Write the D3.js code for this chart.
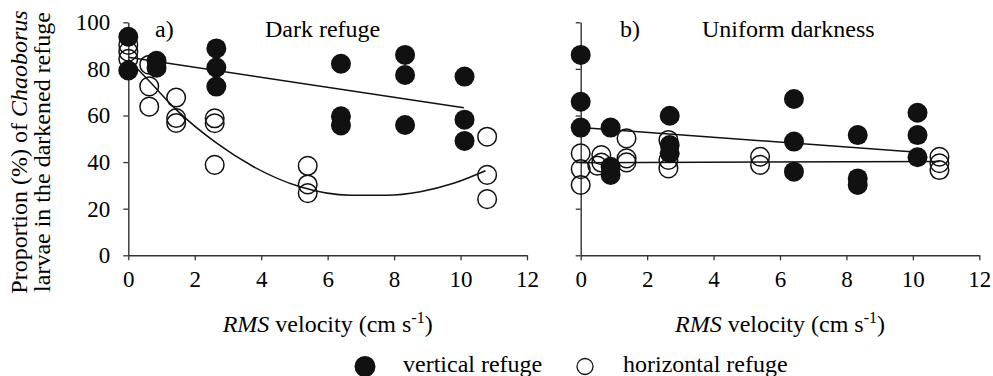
<!DOCTYPE html>
<html><head><meta charset="utf-8">
<script src="https://cdn.jsdelivr.net/npm/d3@7"></script>
<style>
body{margin:0;background:#fff}
svg{display:block}
text{font-family:"Liberation Serif","Times New Roman",serif;fill:#000}
</style>
</head><body>
<svg id="c" width="993" height="376"></svg>
<script>
// ---- data ----
const xTicks = [0, 2, 4, 6, 8, 10, 12];
const yTicks = [0, 20, 40, 60, 80, 100];
const panelLabels = ["a)", "b)"];
const panelTitles = ["Dark refuge", "Uniform darkness"];
const seriesNames = ["vertical refuge", "horizontal refuge"];

// panel a: vertical refuge (filled)
const aVertX = [0, 0, 0.85, 0.85, 2.65, 2.65, 2.65, 6.4, 6.4, 6.4, 8.33, 8.33, 8.33, 10.12, 10.12, 10.12];
const aVertY = [93.8, 79.3, 83.5, 80.5, 88.8, 80.6, 72.4, 82.2, 59.7, 55.7, 86, 77.4, 55.9, 76.7, 58.2, 49.1];
// panel a: horizontal refuge (open)
const aHorX = [0, 0, 0, 0.63, 0.63, 0.63, 1.44, 1.44, 1.44, 2.6, 2.6, 2.6, 5.4, 5.4, 5.4, 10.8, 10.8, 10.8];
const aHorY = [90.3, 87.4, 84.3, 81.8, 72.5, 63.8, 67.7, 58.9, 56.8, 58.8, 56.7, 38.8, 38.4, 30.4, 26.7, 50.9, 34.5, 24.1];
// panel b: vertical refuge (filled)
const bVertX = [0, 0, 0, 0.9, 0.9, 0.9, 2.68, 2.68, 2.68, 6.42, 6.42, 6.42, 8.34, 8.34, 8.34, 10.14, 10.14, 10.14];
const bVertY = [86, 65.9, 54.8, 54.8, 38, 34.5, 59.9, 47.3, 43.8, 67.1, 48.8, 35.9, 51.6, 33, 30.2, 61.2, 51.6, 42.1];
// panel b: horizontal refuge (open)
const bHorX = [0, 0, 0, 0.5, 0.62, 0.62, 1.38, 1.38, 1.38, 2.64, 2.64, 2.64, 5.4, 5.4, 10.8, 10.8, 10.8];
const bHorY = [43.8, 37, 30.2, 38.5, 43, 39.8, 50.2, 41.6, 39.9, 49.5, 40.9, 37.3, 42.3, 38.8, 42.3, 39.5, 36.6];

// fitted lines
const aVertFitX = [0, 10.1];
const aVertFitY = [85, 63.3];
const aHorFitX = [0, 0.6, 1.45, 2.66, 3.77, 5.17, 6.68, 7.78, 8.79, 9.79, 10.75];
const aHorFitY = [84, 75.2, 62.4, 48.1, 38, 29.4, 25.8, 25.8, 27.3, 30.9, 36.3];
const bVertFitX = [0, 10.15];
const bVertFitY = [54.9, 44.2];
const bHorFitX = [0, 10.8];
const bHorFitY = [39.7, 40.3];

// ---- drawing ----
const svg = d3.select("#c");
const zip = (xs, ys) => xs.map((x, i) => [x, ys[i]]);

const y = d3.scaleLinear().domain([0, 100]).range([255.3, 22.3]);
const xA = d3.scaleLinear().domain([0, 12]).range([128.3, 527]);
const xB = d3.scaleLinear().domain([0, 12]).range([580.7, 979.3]);

const panels = [
  {x: xA, vert: zip(aVertX, aVertY), hor: zip(aHorX, aHorY),
   vFit: zip(aVertFitX, aVertFitY), hFit: zip(aHorFitX, aHorFitY), yLabels: true,
   labelX: 155, titleX: 265},
  {x: xB, vert: zip(bVertX, bVertY), hor: zip(bHorX, bHorY),
   vFit: zip(bVertFitX, bVertFitY), hFit: zip(bHorFitX, bHorFitY), yLabels: false,
   labelX: 620, titleX: 702}
];

const axisColor = "#333";

panels.forEach((p, i) => {
  const g = svg.append("g");
  // y axis
  const ya = d3.axisLeft(y).tickValues(yTicks).tickSize(5).tickSizeOuter(0)
    .tickFormat(p.yLabels ? d3.format("d") : () => "");
  const yg = g.append("g").attr("transform", `translate(${p.x(0)},0)`).call(ya);
  yg.select(".domain").attr("stroke", axisColor).attr("stroke-width", 1.4);
  yg.selectAll(".tick line").attr("stroke", axisColor).attr("stroke-width", 1.3);
  yg.selectAll("text").attr("x", -18).attr("font-size", 23)
    .attr("font-family", '"Liberation Serif","Times New Roman",serif');
  // x axis
  const xa = d3.axisBottom(p.x).tickValues(xTicks).tickSize(5).tickSizeOuter(0)
    .tickFormat(d3.format("d"));
  const xg = g.append("g").attr("transform", `translate(0,${y(0)})`).call(xa);
  xg.select(".domain").attr("stroke", axisColor).attr("stroke-width", 1.4);
  xg.selectAll(".tick line").attr("stroke", axisColor).attr("stroke-width", 1.3);
  xg.selectAll("text").attr("y", 32).attr("dy", null).attr("font-size", 23)
    .attr("font-family", '"Liberation Serif","Times New Roman",serif');

  // open circles
  g.append("g").selectAll("circle").data(p.hor).join("circle")
    .attr("cx", d => p.x(d[0])).attr("cy", d => y(d[1])).attr("r", 9.3)
    .attr("fill", "none").attr("stroke", "#111").attr("stroke-width", 1.5);

  // fit lines
  const line = d3.line().x(d => p.x(d[0])).y(d => y(d[1]));
  g.append("path").datum(p.vFit).attr("d", line)
    .attr("fill", "none").attr("stroke", "#111").attr("stroke-width", 1.5);
  g.append("path").datum(p.hFit).attr("d", line.curve(d3.curveMonotoneX))
    .attr("fill", "none").attr("stroke", "#111").attr("stroke-width", 1.5);

  // filled circles
  g.append("g").selectAll("circle").data(p.vert).join("circle")
    .attr("cx", d => p.x(d[0])).attr("cy", d => y(d[1])).attr("r", 10)
    .attr("fill", "#111");

  // panel label & title
  g.append("text").attr("x", p.labelX).attr("y", 36.5).attr("font-size", 24).text(panelLabels[i]);
  g.append("text").attr("x", p.titleX).attr("y", 36.5).attr("font-size", 24).text(panelTitles[i]);

  // x title
  const cx = (p.x(0) + p.x(12)) / 2;
  const t = g.append("text").attr("x", cx).attr("y", 331.5).attr("text-anchor", "middle").attr("font-size", 24);
  t.append("tspan").attr("font-style", "italic").text("RMS");
  t.append("tspan").text(" velocity (cm s");
  t.append("tspan").attr("font-size", 16).attr("dy", -9).text("-1");
  t.append("tspan").attr("dy", 9).text(")");
});

// y title (two lines)
const yt1 = svg.append("text").attr("transform", "translate(26.5,152) rotate(-90)")
  .attr("text-anchor", "middle").attr("font-size", 24);
yt1.append("tspan").text("Proportion (%) of ");
yt1.append("tspan").attr("font-style", "italic").text("Chaoborus");
svg.append("text").attr("transform", "translate(50,152) rotate(-90)")
  .attr("text-anchor", "middle").attr("font-size", 24).text("larvae in the darkened refuge");

// legend
const leg = svg.append("g");
leg.append("circle").attr("cx", 365).attr("cy", 366.5).attr("r", 10.5).attr("fill", "#111");
leg.append("text").attr("x", 403).attr("y", 372).attr("font-size", 24).text(seriesNames[0]);
leg.append("circle").attr("cx", 585).attr("cy", 366.5).attr("r", 8).attr("fill", "none")
  .attr("stroke", "#111").attr("stroke-width", 1.3);
leg.append("text").attr("x", 623).attr("y", 372).attr("font-size", 24).text(seriesNames[1]);
</script>
</body></html>
